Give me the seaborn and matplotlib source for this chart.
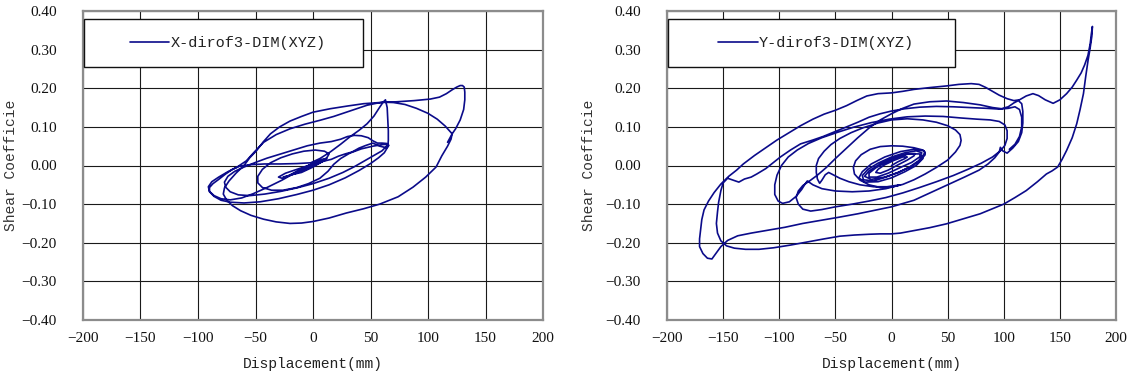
import numpy as np
import pandas as pd
import matplotlib
matplotlib.use("Agg")
import matplotlib.pyplot as plt
from matplotlib.patches import Rectangle
import seaborn as sns

# ---------------- X direction trace (displacement mm, shear coefficient) ----------------
# small cycles around the origin
x_core_d = [0, 6, 10, 6, -4, -12, -16, -10, 0, 8, 12, 8, -2, -12, -22, -26, -18, -6, 4, 11,
            7, -4, -16, -26, -30, -24, -12, 0, 10, 12]
x_core_s = [0.000, 0.008, 0.014, 0.012, -0.004, -0.016, -0.022, -0.018, -0.004, 0.010, 0.018, 0.016,
            0.002, -0.014, -0.028, -0.030, -0.024, -0.010, 0.004, 0.014, 0.014, 0.000, -0.018, -0.034,
            -0.030, -0.020, -0.008, 0.004, 0.016, 0.020]
# inner loop
x_loopA_d = [14, 10, 2, -8, -18, -28, -37, -44, -48, -48, -44, -36, -26, -14, -4, 6, 13, 18, 24, 32,
             42, 52, 60, 64]
x_loopA_s = [0.030, 0.037, 0.040, 0.037, 0.030, 0.020, 0.007, -0.010, -0.028, -0.045, -0.057, -0.064,
             -0.064, -0.057, -0.047, -0.033, -0.015, 0.003, 0.018, 0.032, 0.043, 0.050, 0.054, 0.055]
# loop with the wavy upper branch
x_loopB_d = [64, 60, 53, 45, 36, 26, 14, 0, -14, -28, -42, -55, -65, -72, -76, -77, -74, -68, -60, -50,
             -40, -28, -16, -5, 6, 16, 24, 30, 36, 42, 48, 52, 56, 60, 64, 66, 64, 58, 52, 46,
             40, 34, 28, 22, 16, 9, 2]
x_loopB_s = [0.050, 0.038, 0.026, 0.012, -0.003, -0.018, -0.033, -0.047, -0.058, -0.067, -0.074, -0.078,
             -0.076, -0.068, -0.056, -0.043, -0.028, -0.015, -0.004, 0.008, 0.019, 0.030, 0.041, 0.051,
             0.058, 0.062, 0.068, 0.075, 0.078, 0.077, 0.072, 0.064, 0.058, 0.058, 0.057, 0.052, 0.046,
             0.050, 0.058, 0.052, 0.045, 0.035, 0.030, 0.024, 0.016, 0.011, 0.007]
# loop reaching -90 mm with the flat return near zero shear
x_loopC_d = [-6, -15, -27, -40, -52, -62, -72, -80, -86, -90, -90, -87, -82, -76, -70, -64, -55, -42,
             -28, -14, -2]
x_loopC_s = [-0.003, -0.018, -0.038, -0.057, -0.073, -0.084, -0.089, -0.086, -0.078, -0.067, -0.057,
             -0.047, -0.036, -0.022, -0.010, -0.002, 0.002, 0.004, 0.004, 0.005, 0.007]
# excursion to the sharp tip near 63 mm
x_spike_d = [6, 15, 24, 32, 40, 47, 53, 58, 61, 63, 64.5, 65, 65.5, 65.5, 65, 62, 57, 50, 40, 28,
             14, 0, -14, -30, -46, -60, -72, -80, -86, -90, -91, -88, -82, -74, -66]
x_spike_s = [0.018, 0.035, 0.055, 0.074, 0.091, 0.108, 0.128, 0.151, 0.164, 0.170, 0.150, 0.120, 0.090,
             0.065, 0.048, 0.033, 0.020, 0.005, -0.013, -0.032, -0.050, -0.064, -0.075, -0.086, -0.094,
             -0.097, -0.095, -0.090, -0.080, -0.068, -0.055, -0.042, -0.030, -0.016, -0.004]
# largest cycle up to 130 mm
x_outer_d = [-58, -51, -43, -32, -20, -7, 6, 18, 29, 38, 47, 55, 61, 70, 80, 90, 100, 108, 115, 121,
             120, 117, 112, 107, 98, 87, 74, 58, 44, 29, 14, 0, -10, -20, -32, -43, -54, -63, -70, -75,
             -78, -77, -73, -67, -60, -55, -49, -43, -37, -29, -20, -10, 0, 15, 30, 44, 58, 73, 88, 102,
             110, 116, 121, 125, 128, 130, 131.5, 132, 132, 131, 128, 124, 121, 117]
x_outer_s = [0.012, 0.035, 0.060, 0.080, 0.095, 0.107, 0.117, 0.127, 0.138, 0.147, 0.156, 0.161, 0.164,
             0.163, 0.158, 0.148, 0.135, 0.120, 0.102, 0.082, 0.068, 0.050, 0.025, -0.004, -0.030,
             -0.056, -0.081, -0.100, -0.112, -0.123, -0.136, -0.145, -0.149, -0.150, -0.146, -0.139,
             -0.129, -0.117, -0.104, -0.090, -0.074, -0.058, -0.040, -0.020, 0.000, 0.020, 0.039, 0.062,
             0.082, 0.100, 0.115, 0.127, 0.138, 0.147, 0.154, 0.160, 0.163, 0.165, 0.168, 0.172, 0.177,
             0.186, 0.196, 0.203, 0.207, 0.207, 0.203, 0.190, 0.170, 0.145, 0.118, 0.095, 0.082, 0.060]

# ---------------- Y direction trace ----------------
y_core_d = [0, 6, 12, 14, 10, 2, -6, -12, -14, -10, -3,
            6, 14, 20, 21, 15, 5, -5, -14, -20, -20, -13, -3,
            8, 18, 25, 27, 22, 12, 0, -12, -21, -26, -25, -16, -5,
            6, 18, 26, 30, 29, 20, 8, -6, -18, -26, -29, -24, -12, 0,
            12, 22, 28, 25, 14, 2, -10, -20, -24, -18, -6, 6, 16, 24, 28, 30]
y_core_s = [0.000, 0.010, 0.018, 0.022, 0.022, 0.013, 0.002, -0.010, -0.018, -0.020, -0.012,
            0.002, 0.014, 0.025, 0.031, 0.030, 0.020, 0.008, -0.006, -0.020, -0.030, -0.030, -0.020,
            -0.005, 0.008, 0.022, 0.033, 0.038, 0.033, 0.022, 0.006, -0.010, -0.026, -0.037, -0.040, -0.030,
            -0.018, -0.002, 0.014, 0.028, 0.038, 0.042, 0.036, 0.022, 0.004, -0.016, -0.032, -0.043, -0.042, -0.032,
            -0.016, 0.000, 0.018, 0.030, 0.030, 0.020, 0.004, -0.014, -0.028, -0.036, -0.030, -0.018, -0.004,
            0.012, 0.026, 0.034]
y_loop1_d = [28, 20, 10, 0, -10, -19, -27, -32, -34, -33, -28, -20, -10, 0, 10, 20, 30, 40, 50, 57, 61]
y_loop1_s = [0.040, 0.046, 0.050, 0.051, 0.049, 0.042, 0.028, 0.012, -0.005, -0.022, -0.038, -0.050,
             -0.057, -0.056, -0.049, -0.037, -0.022, -0.005, 0.014, 0.035, 0.052]
y_loop2_d = [62, 61, 57, 50, 40, 28, 14, 0, -12, -25, -36, -46, -54, -60, -65, -67, -67, -66, -64, -62,
             -59, -56, -52, -46, -38, -28, -16, -4, 8]
y_loop2_s = [0.065, 0.080, 0.092, 0.103, 0.112, 0.118, 0.121, 0.118, 0.110, 0.098, 0.085, 0.070, 0.054,
             0.037, 0.018, 0.000, -0.018, -0.035, -0.046, -0.038, -0.024, -0.018, -0.024, -0.033, -0.042,
             -0.050, -0.055, -0.055, -0.050]
y_loop3_d = [-5, -20, -35, -50, -62, -70, -75, -77, -80, -85, -91, -97, -101, -104, -104, -102, -98, -92,
             -84, -74, -62, -48, -34, -18, -2, 14, 30, 46, 62, 76, 88, 96, 101, 103, 103, 101, 97, 90,
             80, 68, 55, 40, 25, 10, -5, -20, -35, -50, -62, -72, -79, -83, -85, -83, -79, -73]
y_loop3_s = [-0.060, -0.066, -0.068, -0.066, -0.060, -0.050, -0.040, -0.048, -0.062, -0.080, -0.094,
             -0.098, -0.092, -0.075, -0.050, -0.025, 0.000, 0.022, 0.040, 0.057, 0.072, 0.086, 0.099,
             0.111, 0.120, 0.126, 0.128, 0.127, 0.123, 0.120, 0.118, 0.114, 0.105, 0.090, 0.070, 0.052,
             0.038, 0.022, 0.006, -0.010, -0.026, -0.042, -0.057, -0.071, -0.083, -0.092, -0.100, -0.107,
             -0.114, -0.118, -0.113, -0.100, -0.083, -0.066, -0.052, -0.040]
y_loop4_d = [-66, -58, -50, -40, -30, -20, -10, 0, 10, 20, 34, 49, 64, 79, 90, 98, 104, 109, 113, 116,
             117, 117, 116, 113, 108, 103, 99, 97, 96, 92, 86, 78, 65, 50, 35, 20, 0, -15, -30, -47,
             -63, -79, -95, -111, -125, -137, -146, -152, -157, -160]
y_loop4_s = [-0.025, -0.005, 0.018, 0.045, 0.072, 0.097, 0.118, 0.134, 0.148, 0.159, 0.165, 0.167, 0.163,
             0.157, 0.150, 0.147, 0.152, 0.162, 0.168, 0.160, 0.140, 0.110, 0.085, 0.062, 0.045, 0.032,
             0.038, 0.047, 0.035, 0.020, 0.004, -0.012, -0.030, -0.050, -0.070, -0.090, -0.107, -0.116,
             -0.125, -0.134, -0.142, -0.150, -0.160, -0.168, -0.175, -0.182, -0.194, -0.210, -0.230, -0.242]
y_outer_d = [-164, -168, -171, -171, -170, -169, -167, -163, -158, -152, -145, -138, -132, -122, -111,
             -102, -93, -81, -70, -60, -50, -40, -31, -22, -12, 0, 10, 20, 35, 49, 60, 71, 78, 84, 90,
             96, 103, 109, 114, 120, 126, 131, 137, 144, 150, 156, 161, 165, 169, 172, 175, 177, 178, 179]
y_outer_s = [-0.240, -0.228, -0.210, -0.190, -0.165, -0.140, -0.115, -0.092, -0.070, -0.048, -0.028,
             -0.012, 0.004, 0.026, 0.048, 0.066, 0.082, 0.103, 0.120, 0.133, 0.143, 0.155, 0.168, 0.180,
             0.186, 0.188, 0.192, 0.197, 0.202, 0.206, 0.210, 0.212, 0.210, 0.202, 0.192, 0.182, 0.173,
             0.168, 0.170, 0.180, 0.186, 0.181, 0.170, 0.161, 0.170, 0.186, 0.203, 0.221, 0.240, 0.260,
             0.285, 0.315, 0.340, 0.360]
y_return_d = [178.5, 177, 175, 173, 171, 168, 165, 161, 156, 152, 148, 143, 138, 130, 120, 110, 100, 90,
              79, 64, 49, 34, 19, 8, 0, -10, -20, -33, -46, -60, -75, -90, -105, -118, -130, -140, -147,
              -152, -155, -156, -155, -154, -152, -150, -146, -141, -136, -131, -125, -120, -112, -105,
              -99, -90, -81, -70, -61, -50, -40, -30, -20, -10, 0, 12, 25, 40, 55, 70, 85, 96, 104, 110,
              114, 116, 116, 114, 110, 105]
y_return_s = [0.335, 0.305, 0.270, 0.230, 0.186, 0.145, 0.108, 0.072, 0.039, 0.016, -0.004, -0.014,
              -0.022, -0.042, -0.065, -0.083, -0.100, -0.112, -0.125, -0.138, -0.151, -0.161, -0.169,
              -0.175, -0.177, -0.177, -0.178, -0.180, -0.183, -0.190, -0.198, -0.206, -0.213, -0.217,
              -0.217, -0.214, -0.208, -0.195, -0.175, -0.150, -0.120, -0.095, -0.065, -0.045, -0.033,
              -0.038, -0.043, -0.035, -0.030, -0.022, -0.008, 0.008, 0.022, 0.040, 0.056, 0.066, 0.075,
              0.088, 0.100, 0.112, 0.125, 0.134, 0.141, 0.147, 0.151, 0.153, 0.152, 0.150, 0.148, 0.146,
              0.148, 0.152, 0.145, 0.125, 0.100, 0.075, 0.055, 0.042]

x_ticks = [-200, -150, -100, -50, 0, 50, 100, 150, 200]
y_ticks = [-0.40, -0.30, -0.20, -0.10, 0.00, 0.10, 0.20, 0.30, 0.40]

x_disp = x_core_d + x_loopA_d + x_loopB_d + x_loopC_d + x_spike_d + x_outer_d
x_shear = x_core_s + x_loopA_s + x_loopB_s + x_loopC_s + x_spike_s + x_outer_s
y_disp = y_core_d + y_loop1_d + y_loop2_d + y_loop3_d + y_loop4_d + y_outer_d + y_return_d
y_shear = y_core_s + y_loop1_s + y_loop2_s + y_loop3_s + y_loop4_s + y_outer_s + y_return_s

panels = [
    ("X-dirof3-DIM(XYZ)", x_disp, x_shear),
    ("Y-dirof3-DIM(XYZ)", y_disp, y_shear),
]

sns.set_theme(style="white")
plt.rcParams["font.family"] = ["Liberation Serif", "DejaVu Serif"]
mono = ["Liberation Mono", "DejaVu Sans Mono"]

fig = plt.figure(figsize=(11.32, 3.81), dpi=100)
fig.patch.set_facecolor("white")
axes_rects = [
    [83 / 1132, 61 / 381, 460 / 1132, 309 / 381],
    [667 / 1132, 61 / 381, 449 / 1132, 309 / 381],
]
legend_widths = [0.606, 0.64]
ylabel_x = [18, 596]
line_color = "#0B0B8A"

for (label, disp, shear), rect, lw_box, ylx in zip(panels, axes_rects, legend_widths, ylabel_x):
    ax = fig.add_axes(rect)
    df = pd.DataFrame({"Displacement": disp, "Shear": shear})
    sns.lineplot(data=df, x="Displacement", y="Shear", sort=False, estimator=None,
                 ax=ax, color=line_color, linewidth=1.2, label=label, zorder=3)
    for ln in ax.get_lines():
        ln.set_solid_joinstyle("round")

    ax.set_xlim(-200, 200)
    ax.set_ylim(-0.40, 0.40)
    ax.set_xticks(x_ticks)
    ax.set_yticks(y_ticks)
    ax.set_xticklabels([f"{v:d}".replace("-", "\u2212") for v in x_ticks])
    ax.set_yticklabels([f"{v:.2f}".replace("-", "\u2212") for v in y_ticks])
    ax.tick_params(axis="both", length=0, labelsize=11, colors="#111111")
    ax.tick_params(axis="y", pad=19)
    ax.tick_params(axis="x", pad=9)

    ax.grid(True, color="#1a1a1a", linewidth=0.8)
    ax.set_axisbelow(True)
    for sp in ax.spines.values():
        sp.set_visible(True)
        sp.set_color("#8c8c8c")
        sp.set_linewidth(1.6)

    ax.set_xlabel("Displacement(mm)", family=mono, fontsize=10.5, color="#222222", labelpad=8)
    ax.set_ylabel("Shear Coefficie", family=mono, fontsize=10.5, color="#333333")
    ax.yaxis.set_label_coords(-(rect[0] * 1132 - ylx) / (rect[2] * 1132), 0.5)

    # legend box across the upper-left of the panel
    box_bottom, box_h = 0.819, 0.155
    ax.add_patch(Rectangle((0.002, box_bottom), lw_box, box_h, transform=ax.transAxes,
                           facecolor="white", edgecolor="#111111", linewidth=1.0, zorder=4))
    leg = ax.legend(loc="center", bbox_to_anchor=(0.002 + lw_box / 2 + 0.01, box_bottom + box_h / 2),
                    frameon=False, prop={"family": mono, "size": 11},
                    handlelength=2.6, handletextpad=0.1)
    leg.set_zorder(5)
    for t in leg.get_texts():
        t.set_color("#222222")

fig.savefig("out.png", dpi=100, facecolor="white")
